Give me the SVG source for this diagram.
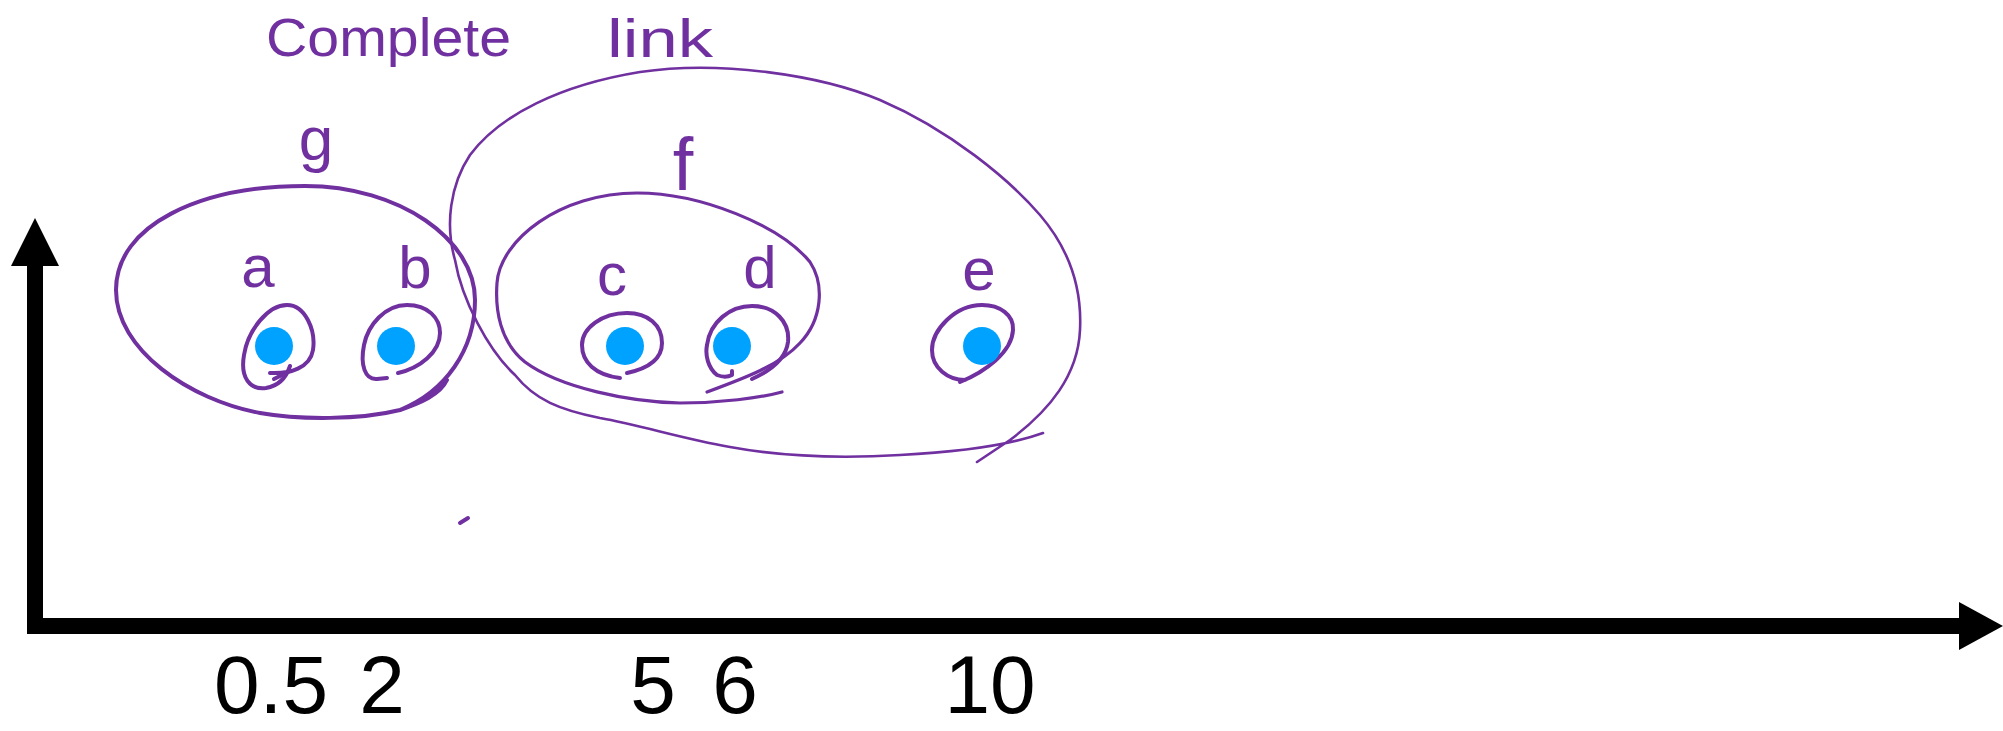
<svg xmlns="http://www.w3.org/2000/svg" width="2003" height="731" viewBox="0 0 2003 731">
<style>
.hand{fill:none;stroke:#7030A0;stroke-linecap:round;stroke-linejoin:round}
.thick{stroke-width:4}
.mid{stroke-width:3.2}
.thin{stroke-width:2.6}
.dot{fill:#00A2FF}
.lbl{font-family:"Liberation Sans",Arial,sans-serif;fill:#7030A0;text-anchor:middle}
.num{font-family:"Liberation Sans",Arial,sans-serif;font-size:82px;fill:#000;text-anchor:middle}
.axis{fill:#000}
</style>
<rect width="2003" height="731" fill="#fff"/>

<g id="axes">
  <rect class="axis" x="27" y="264" width="16" height="370"/>
  <polygon class="axis" points="35,218 59,266 11,266"/>
  <rect class="axis" x="27" y="618" width="1934" height="16"/>
  <polygon class="axis" points="2003,626 1959,602 1959,650"/>
</g>

<g id="axis-labels">
  <text class="num" x="271" y="713">0.5</text>
  <text class="num" x="382" y="713">2</text>
  <text class="num" x="653" y="713">5</text>
  <text class="num" x="735" y="713">6</text>
  <text class="num" x="990" y="713">10</text>
</g>

<g id="title">
  <text class="lbl" font-size="53" style="text-anchor:start"><tspan x="266" y="56" textLength="245" lengthAdjust="spacingAndGlyphs">Complete</tspan><tspan x="607" y="57" textLength="106" lengthAdjust="spacingAndGlyphs">link</tspan></text>
</g>

<g id="cluster-outer">
  <path class="hand thin" d="M 1043,433 C 1010,445 960,452 900,455 C 850,458 790,458 730,447 C 680,438 640,425 600,418 C 560,410 535,400 515,375 C 488,350 462,300 455,260 C 445,225 450,185 470,155 C 500,115 560,85 640,72 C 720,60 820,75 880,100 C 950,130 1010,180 1040,215 C 1070,250 1082,290 1080,330 C 1078,375 1050,410 1010,440 L 977,462"/>
</g>

<g id="cluster-g">
  <path class="hand thick" d="M 447,380 C 440,395 420,403 400,410 C 360,420 300,420 260,413 C 190,400 116,350 116,290 C 116,225 200,186 305,186 C 400,186 475,240 475,300 C 475,350 445,392 400,410"/>
  <text class="lbl" x="316" y="160" font-size="62">g</text>
</g>

<g id="cluster-f">
  <path class="hand mid" d="M 782,392 C 760,398 720,403 680,403 C 630,402 560,388 525,362 C 500,342 495,310 497,283 C 500,240 560,193 637,193 C 700,193 780,225 810,262 C 825,285 822,320 800,343 C 780,365 745,378 707,392"/>
  <text class="lbl" x="683" y="190" font-size="74">f</text>
</g>

<g id="node-a">
  <path class="hand thick" d="M 270,373 C 290,374 310,368 313,350 C 316,330 305,305 287,305 C 268,305 248,330 244,355 C 240,378 250,390 266,388 C 278,386 286,378 290,366"/>
  <path class="hand thick" d="M 274,379 L 290,371"/>
  <circle class="dot" cx="274" cy="346" r="19"/>
  <text class="lbl" x="258" y="287" font-size="60">a</text>
</g>

<g id="node-b">
  <path class="hand thick" d="M 398,373 C 420,368 440,352 440,333 C 440,318 428,305 407,305 C 385,305 368,325 364,345 C 360,365 365,380 377,379 L 387,378"/>
  <circle class="dot" cx="396" cy="346" r="19"/>
  <text class="lbl" x="415" y="288" font-size="60">b</text>
</g>

<g id="node-c">
  <path class="hand thick" d="M 627,373 C 650,368 662,358 662,343 C 662,325 648,313 627,313 C 602,313 582,328 582,345 C 582,362 595,375 620,378"/>
  <circle class="dot" cx="625" cy="346" r="19"/>
  <text class="lbl" x="612" y="295" font-size="60">c</text>
</g>

<g id="node-d">
  <path class="hand thick" d="M 732,371 L 732,375 C 728,377 722,377 717,375 C 708,368 705,355 707,345 C 710,322 730,306 752,306 C 775,306 790,322 788,342 C 786,358 772,370 752,379"/>
  <circle class="dot" cx="732" cy="346" r="19"/>
  <text class="lbl" x="760" y="288" font-size="60">d</text>
</g>

<g id="node-e">
  <path class="hand thick" d="M 960,382 C 985,372 1012,352 1013,330 C 1014,315 1000,305 982,305 C 955,305 932,330 932,350 C 932,368 948,380 965,380"/>
  <circle class="dot" cx="982" cy="346" r="19"/>
  <text class="lbl" x="979" y="290" font-size="60">e</text>
</g>

<path class="hand thick" d="M 460,523 L 468,518"/>
</svg>
